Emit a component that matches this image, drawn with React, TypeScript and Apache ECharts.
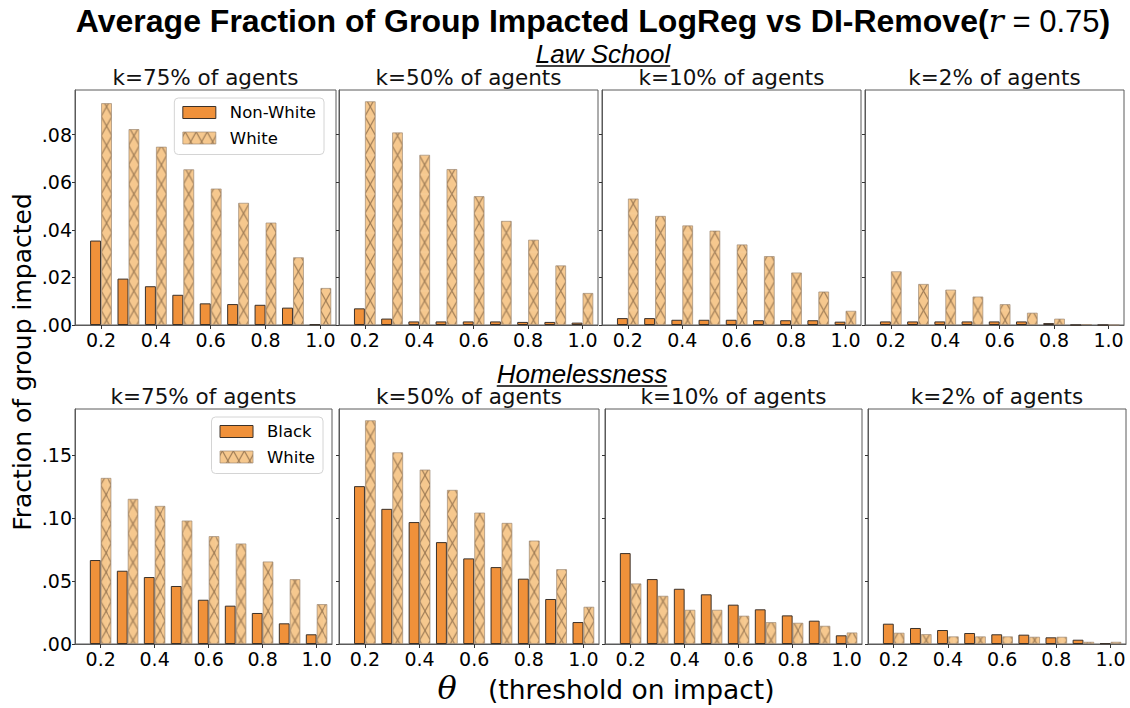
import React, { useEffect, useRef } from 'react';
import * as echarts from 'echarts';

// Impact thresholds θ on the x axis
const thetas = [0.2, 0.3, 0.4, 0.5, 0.6, 0.7, 0.8, 0.9, 1.0];
const thetaTicks = [0.2, 0.4, 0.6, 0.8, 1.0];
const kLabels = ['k=75% of agents', 'k=50% of agents', 'k=10% of agents', 'k=2% of agents'];

// Law School: fraction of each group impacted, one array per k
const lawNonWhite75 = [0.0355, 0.0195, 0.0163, 0.0127, 0.0091, 0.0088, 0.0085, 0.0073, 0.0003];
const lawNonWhite50 = [0.007, 0.0027, 0.0015, 0.0015, 0.0015, 0.0015, 0.0013, 0.0013, 0.001];
const lawNonWhite10 = [0.0029, 0.0029, 0.0022, 0.0022, 0.0022, 0.002, 0.002, 0.002, 0.0014];
const lawNonWhite2 = [0.0015, 0.0015, 0.0015, 0.0015, 0.0015, 0.0015, 0.0008, 0.0, 0.0];
const lawWhite75 = [0.0933, 0.0824, 0.075, 0.0655, 0.0574, 0.0514, 0.0431, 0.0285, 0.0156];
const lawWhite50 = [0.0941, 0.081, 0.0716, 0.0656, 0.0542, 0.0438, 0.0359, 0.0251, 0.0135];
const lawWhite10 = [0.0532, 0.0459, 0.0419, 0.0397, 0.0339, 0.029, 0.0221, 0.0141, 0.006];
const lawWhite2 = [0.0226, 0.0173, 0.0149, 0.012, 0.0088, 0.0052, 0.0027, 0.0004, 0.0];
const lawYTicks = [0, 0.02, 0.04, 0.06, 0.08];

// Homelessness: fraction of each group impacted, one array per k
const homeBlack75 = [0.0666, 0.0581, 0.0531, 0.046, 0.0351, 0.0304, 0.0246, 0.0164, 0.0077];
const homeBlack50 = [0.1252, 0.1072, 0.0967, 0.0808, 0.0679, 0.061, 0.0518, 0.0357, 0.0174];
const homeBlack10 = [0.0721, 0.0515, 0.0438, 0.0394, 0.0312, 0.0275, 0.0227, 0.0185, 0.0069];
const homeBlack2 = [0.0161, 0.0127, 0.0111, 0.0087, 0.0077, 0.0074, 0.0053, 0.0034, 0.0005];
const homeWhite75 = [0.1318, 0.1152, 0.1096, 0.098, 0.0856, 0.0798, 0.0655, 0.0515, 0.0317];
const homeWhite50 = [0.1775, 0.1521, 0.1384, 0.1223, 0.1043, 0.0961, 0.0821, 0.0594, 0.0296];
const homeWhite10 = [0.0481, 0.0383, 0.0272, 0.0272, 0.0225, 0.0174, 0.0169, 0.0145, 0.0092];
const homeWhite2 = [0.009, 0.0079, 0.0061, 0.0061, 0.0061, 0.0058, 0.0058, 0.0018, 0.0018];
const homeYTicks = [0, 0.05, 0.1, 0.15];

const ORANGE = '#F0913A';
const LIGHT = '#F6C88E';
const FRAME = '#5a5a5a';
const SANS = '"DejaVu Sans", sans-serif';
const HELV = '"Liberation Sans", Arial, sans-serif';
const X_MIN = 0.105;
const X_MAX = 1.057;
const BAR_FRAC = 0.4; // each bar takes 40% of the 0.1 step
const HATCH_H = 19.4;

const rows = [
  {
    section: 'Law School',
    sectionX: 603,
    sectionY: 54,
    group: 'Non-White',
    a: [lawNonWhite75, lawNonWhite50, lawNonWhite10, lawNonWhite2],
    b: [lawWhite75, lawWhite50, lawWhite10, lawWhite2],
    yTicks: lawYTicks,
    lefts: [75, 339, 602, 865],
    rights: [336, 598, 861, 1124],
    top: 90,
    bottom: 325,
    titleY: 77,
    legendRight: 806,
    legendTop: 98,
  },
  {
    section: 'Homelessness',
    sectionX: 582,
    sectionY: 374,
    group: 'Black',
    a: [homeBlack75, homeBlack50, homeBlack10, homeBlack2],
    b: [homeWhite75, homeWhite50, homeWhite10, homeWhite2],
    yTicks: homeYTicks,
    lefts: [75, 339, 605, 868],
    rights: [332, 599, 862, 1126],
    top: 409,
    bottom: 644,
    titleY: 396,
    legendRight: 807,
    legendTop: 417,
  },
];

// Cross-hatch tile whose width equals one bar, shifted so a crossing sits on
// each hatched bar's centre line.
function makeHatch(w: number, h: number, phase: number): HTMLCanvasElement {
  const S = 4;
  const c = document.createElement('canvas');
  c.width = Math.round(w * S);
  c.height = Math.round(h * S);
  const ctx = c.getContext('2d')!;
  ctx.scale(c.width / w, c.height / h);
  ctx.fillStyle = LIGHT;
  ctx.fillRect(0, 0, w, h);
  ctx.strokeStyle = 'rgba(110,82,55,0.68)';
  ctx.lineWidth = 1.1;
  const shift = phase - w / 2;
  ctx.beginPath();
  for (let k = -2; k <= 2; k++) {
    const x0 = k * w + shift;
    ctx.moveTo(x0, 0);
    ctx.lineTo(x0 + w, h);
    ctx.moveTo(x0 + w, 0);
    ctx.lineTo(x0, h);
  }
  ctx.stroke();
  return c;
}

function textWidth(text: string, font: string): number {
  const ctx = document.createElement('canvas').getContext('2d')!;
  ctx.font = font;
  return ctx.measureText(text).width;
}

function fmtY(v: number): string {
  return v.toFixed(2).replace(/^0/, '');
}

export default function App() {
  const ref = useRef<HTMLDivElement>(null);

  useEffect(() => {
    const el = ref.current!;
    const chart = echarts.init(el, null, { renderer: 'svg' });

    const grids: any[] = [];
    const xAxes: any[] = [];
    const yAxes: any[] = [];
    const series: any[] = [];
    const graphics: any[] = [];
    const legends: any[] = [];

    rows.forEach((row) => {
      const ymax = Math.max(...row.a.flat(), ...row.b.flat()) * 1.05;
      row.lefts.forEach((left, c) => {
        const idx = grids.length;
        const right = row.rights[c];
        const ppu = (right - left) / (X_MAX - X_MIN);
        const barW = BAR_FRAC * 0.1 * ppu;
        const firstCenter = left + (thetas[0] - X_MIN) * ppu + barW / 2;
        const phase = ((firstCenter % barW) + barW) % barW;
        const tile = makeHatch(barW, HATCH_H, phase);
        const hatchFill: any = { image: tile, repeat: 'repeat', imageWidth: barW, imageHeight: HATCH_H };

        grids.push({
          left,
          top: row.top,
          width: right - left,
          height: row.bottom - row.top,
          show: true,
          borderColor: FRAME,
          borderWidth: 1,
          backgroundColor: 'rgba(0,0,0,0)',
        });
        xAxes.push({
          type: 'value',
          gridIndex: idx,
          min: X_MIN,
          max: X_MAX,
          axisLine: { show: true, lineStyle: { color: FRAME, width: 1 } },
          splitLine: { show: false },
          axisTick: { show: true, customValues: thetaTicks, length: 4, lineStyle: { color: '#333', width: 1 } },
          axisLabel: {
            customValues: thetaTicks,
            formatter: (v: number) => v.toFixed(1),
            fontSize: 19,
            fontFamily: SANS,
            color: '#000',
            margin: 5,
          },
        });
        yAxes.push({
          type: 'value',
          gridIndex: idx,
          min: 0,
          max: ymax,
          axisLine: { show: true, lineStyle: { color: FRAME, width: 1 } },
          splitLine: { show: false },
          axisTick: { show: true, customValues: row.yTicks, length: 3, lineStyle: { color: '#333', width: 1 } },
          axisLabel: {
            show: c === 0,
            customValues: row.yTicks,
            formatter: (v: number) => fmtY(v),
            fontSize: 19,
            fontFamily: SANS,
            color: '#000',
            margin: 3,
          },
        });
        series.push({
          type: 'bar',
          name: row.group,
          xAxisIndex: idx,
          yAxisIndex: idx,
          data: thetas.map((t, i) => [t, row.a[c][i]]),
          barWidth: BAR_FRAC * 100 + '%',
          barGap: '0%',
          silent: true,
          emphasis: { disabled: true },
          itemStyle: { color: ORANGE, borderColor: '#3b3129', borderWidth: 1 },
        });
        series.push({
          type: 'bar',
          name: 'White',
          xAxisIndex: idx,
          yAxisIndex: idx,
          data: thetas.map((t, i) => [t, row.b[c][i]]),
          barWidth: BAR_FRAC * 100 + '%',
          barGap: '0%',
          silent: true,
          emphasis: { disabled: true },
          itemStyle: { color: hatchFill, borderColor: 'rgba(150,130,110,0.65)', borderWidth: 1 },
        });
        graphics.push({
          type: 'text',
          x: (left + right) / 2,
          y: row.titleY,
          style: {
            text: kLabels[c],
            fontSize: 21.5,
            fontFamily: SANS,
            fill: '#111',
            align: 'center',
            verticalAlign: 'middle',
            textAlign: 'center',
            textVerticalAlign: 'middle',
          },
        });
      });

      legends.push({
        data: [row.group, 'White'],
        orient: 'vertical',
        right: row.legendRight,
        top: row.legendTop,
        icon: 'rect',
        itemWidth: 33,
        itemHeight: 12,
        itemGap: 8.5,
        selectedMode: false,
        padding: [6, 8, 8, 8],
        backgroundColor: 'rgba(255,255,255,0.85)',
        borderColor: '#d4d4d4',
        borderWidth: 1,
        borderRadius: 4,
        itemStyle: { borderWidth: 1 },
        textStyle: { fontSize: 16.5, fontFamily: SANS, color: '#000', padding: [0, 0, 0, 9] },
      });

      // Section heading, italic and underlined
      const secFont = `italic 26px "Liberation Sans"`;
      const w = textWidth(row.section, secFont);
      graphics.push({
        type: 'text',
        x: row.sectionX,
        y: row.sectionY,
        style: {
          text: row.section,
          fontSize: 26,
          fontStyle: 'italic',
          fontFamily: HELV,
          fill: '#000',
          align: 'center',
          verticalAlign: 'middle',
          textAlign: 'center',
          textVerticalAlign: 'middle',
        },
      });
      graphics.push({
        type: 'line',
        shape: { x1: row.sectionX - w / 2, y1: row.sectionY + 12, x2: row.sectionX + w / 2, y2: row.sectionY + 12 },
        style: { stroke: '#000', lineWidth: 1.5 },
      });
    });

    // Figure title
    graphics.push({
      type: 'text',
      x: 593,
      y: 21,
      style: {
        text: '{b|Average Fraction of Group Impacted LogReg vs DI-Remove(}{i|r}{n| = 0.75}{b|)}',
        align: 'center',
        verticalAlign: 'middle',
        textAlign: 'center',
        textVerticalAlign: 'middle',
        rich: {
          b: { fontSize: 32, fontWeight: 'bold', fontFamily: HELV, fill: '#000', color: '#000' },
          i: { fontSize: 32, fontStyle: 'italic', fontFamily: '"DejaVu Serif", serif', fill: '#000', color: '#000' },
          n: { fontSize: 31, fontFamily: HELV, fill: '#000', color: '#000' },
        },
      },
    });

    // Shared y-axis title
    graphics.push({
      type: 'text',
      x: 22,
      y: 362,
      rotation: Math.PI / 2,
      style: {
        text: 'Fraction of group impacted',
        fontSize: 25,
        fontFamily: SANS,
        fill: '#000',
        align: 'center',
        verticalAlign: 'middle',
        textAlign: 'center',
        textVerticalAlign: 'middle',
      },
    });

    // Shared x-axis title
    graphics.push({
      type: 'text',
      x: 447,
      y: 688,
      style: {
        text: 'θ',
        fontSize: 32,
        fontStyle: 'italic',
        fontFamily: '"DejaVu Serif", serif',
        fill: '#000',
        align: 'center',
        verticalAlign: 'middle',
        textAlign: 'center',
        textVerticalAlign: 'middle',
      },
    });
    graphics.push({
      type: 'text',
      x: 488,
      y: 689,
      style: {
        text: '(threshold on impact)',
        fontSize: 26.5,
        fontFamily: SANS,
        fill: '#000',
        align: 'left',
        verticalAlign: 'middle',
        textAlign: 'left',
        textVerticalAlign: 'middle',
      },
    });

    chart.setOption({
      animation: false,
      backgroundColor: '#fff',
      grid: grids,
      xAxis: xAxes,
      yAxis: yAxes,
      series,
      legend: legends,
      graphic: graphics,
    });

    return () => chart.dispose();
  }, []);

  return (
    <div
      ref={ref}
      style={{ position: 'fixed', left: 0, top: 0, width: 1130, height: 708, background: '#fff' }}
    />
  );
}
